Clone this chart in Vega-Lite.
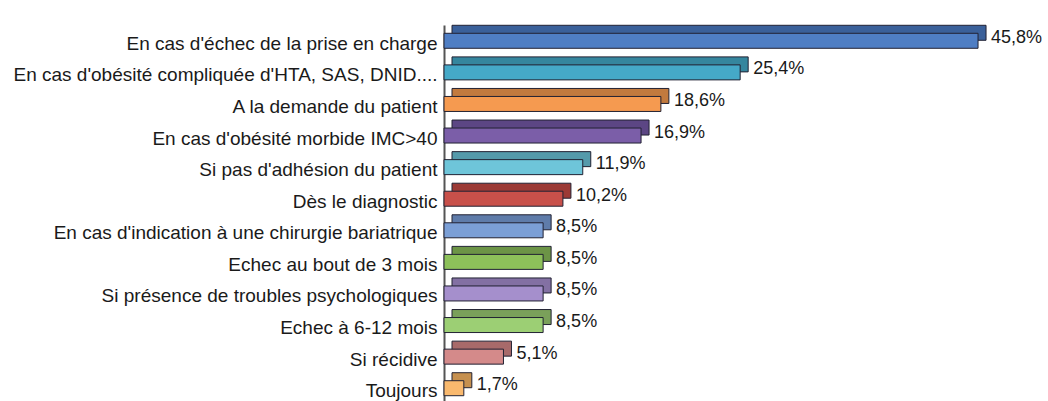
{
  "$schema": "https://vega.github.io/schema/vega-lite/v6.json",
  "autosize": {"type": "none"},
  "padding": {"left": 444, "top": 25, "right": 0, "bottom": 0},
  "width": 604,
  "height": 379,
  "background": "white",
  "config": {"view": {"stroke": null}, "font": "Liberation Sans"},
  "data": {"values": [
    {"cat": "En cas d'échec de la prise en charge", "v": 45.8, "label": "45,8%"},
    {"cat": "En cas d'obésité compliquée d'HTA, SAS, DNID....", "v": 25.4, "label": "25,4%"},
    {"cat": "A la demande du patient", "v": 18.6, "label": "18,6%"},
    {"cat": "En cas d'obésité morbide IMC>40", "v": 16.9, "label": "16,9%"},
    {"cat": "Si pas d'adhésion du patient", "v": 11.9, "label": "11,9%"},
    {"cat": "Dès le diagnostic", "v": 10.2, "label": "10,2%"},
    {"cat": "En cas d'indication à une chirurgie bariatrique", "v": 8.5, "label": "8,5%"},
    {"cat": "Echec au bout de 3 mois", "v": 8.5, "label": "8,5%"},
    {"cat": "Si présence de troubles psychologiques", "v": 8.5, "label": "8,5%"},
    {"cat": "Echec à 6-12 mois", "v": 8.5, "label": "8,5%"},
    {"cat": "Si récidive", "v": 5.1, "label": "5,1%"},
    {"cat": "Toujours", "v": 1.7, "label": "1,7%"}
  ]},
  "encoding": {
    "y": {"field": "cat", "type": "nominal", "sort": null,
      "scale": {"paddingInner": 0, "paddingOuter": 0},
      "axis": {"title": null, "ticks": false, "domain": true, "domainColor": "#555555", "domainWidth": 2,
        "labelFontSize": 19, "labelColor": "#1a1a1a", "labelPadding": 7, "labelOffset": 3, "labelLimit": 500, "labelFont": "Liberation Sans"}},
    "x": {"field": "v", "type": "quantitative", "scale": {"domain": [0, 51.8], "nice": false}, "axis": null}
  },
  "layer": [
    {
      "mark": {"type": "bar", "size": 15, "xOffset": 8, "yOffset": -8, "stroke": "#222233", "strokeWidth": 1},
      "encoding": {
        "color": {"field": "cat", "type": "nominal", "sort": null, "legend": null,
          "scale": {"range": ["#3a609a", "#35869e", "#c27a3e", "#5c4684", "#559aab", "#9c3a36", "#5f7caa", "#6c9446", "#8370a3", "#7aa05a", "#a86a6a", "#c6904f"]}}
      }
    },
    {
      "mark": {"type": "bar", "size": 15, "stroke": "#222233", "strokeWidth": 1},
      "encoding": {
        "color": {"field": "cat", "type": "nominal", "sort": null, "legend": null,
          "scale": {"range": ["#4f7ec4", "#45a9c8", "#f59a50", "#7b5ea8", "#6ec5d9", "#c8504a", "#7b9fd6", "#8dc15a", "#a58fcc", "#9ccf74", "#d48a8a", "#f9b96e"]}}
      }
    },
    {
      "mark": {"type": "text", "align": "left", "baseline": "middle", "dx": 13, "dy": -3, "fontSize": 18, "color": "#1a1a1a", "font": "Liberation Sans"},
      "encoding": {"text": {"field": "label"}}
    }
  ],
  "resolve": {"scale": {"color": "independent"}}
}
